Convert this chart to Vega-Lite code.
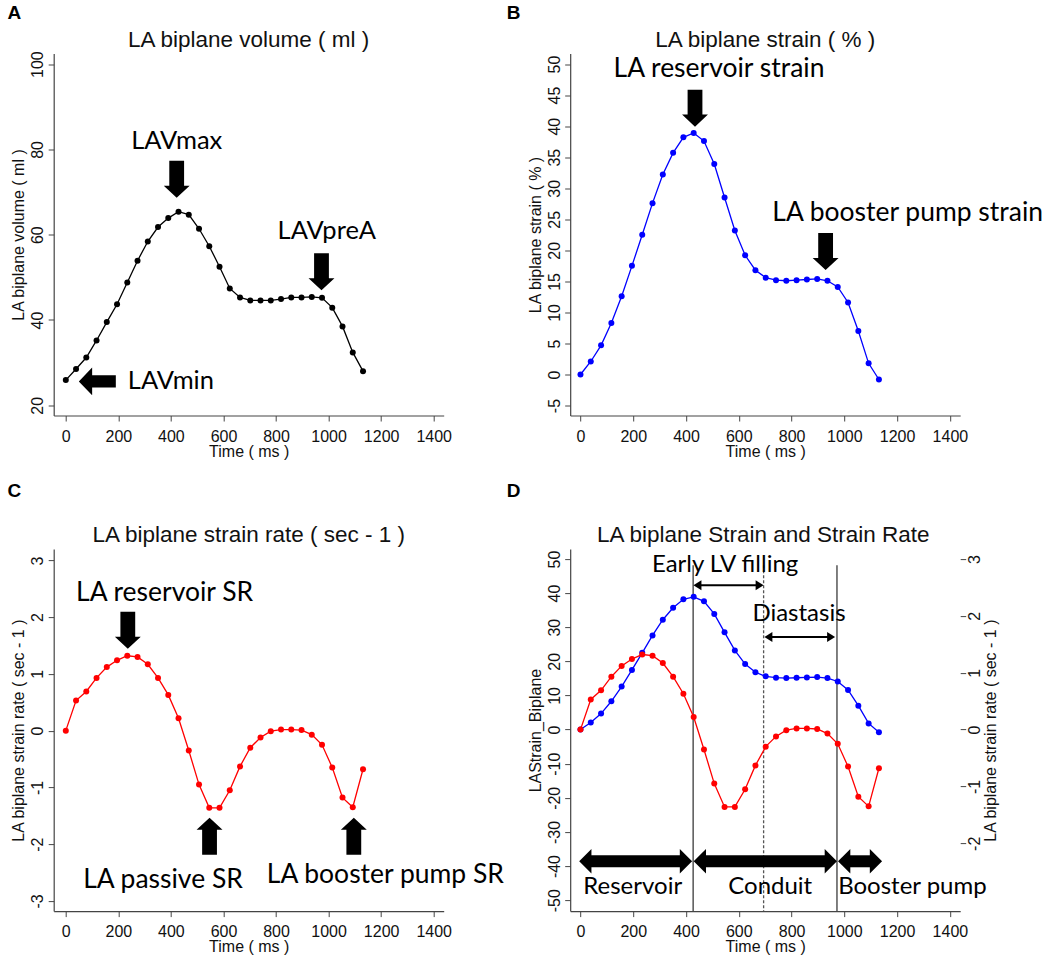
{
  "$schema": "https://vega.github.io/schema/vega-lite/v6.json",
  "background": "white",
  "padding": {"left": 6.7, "top": 3.5, "right": 0, "bottom": 0},
  "columns": 2,
  "spacing": {"row": 133.6, "column": 126.5},
  "bounds": "flush",
  "datasets": {
    "curve": [
      {"t": 0, "vol": 25.9, "strain": 0, "sr": 0},
      {"t": 39, "vol": 28.5, "strain": 2.1, "sr": 0.53},
      {"t": 78, "vol": 31.2, "strain": 4.7, "sr": 0.69},
      {"t": 117, "vol": 35.2, "strain": 8.3, "sr": 0.93},
      {"t": 156, "vol": 39.5, "strain": 12.6, "sr": 1.12},
      {"t": 195, "vol": 43.7, "strain": 17.5, "sr": 1.24},
      {"t": 234, "vol": 48.8, "strain": 22.5, "sr": 1.32},
      {"t": 273, "vol": 53.9, "strain": 27.6, "sr": 1.3},
      {"t": 312, "vol": 58.4, "strain": 32.2, "sr": 1.17},
      {"t": 351, "vol": 61.8, "strain": 35.7, "sr": 0.93},
      {"t": 390, "vol": 63.9, "strain": 38.2, "sr": 0.63},
      {"t": 429, "vol": 65.4, "strain": 38.9, "sr": 0.22},
      {"t": 468, "vol": 64.7, "strain": 37.6, "sr": -0.35},
      {"t": 507, "vol": 61.4, "strain": 33.9, "sr": -0.95},
      {"t": 546, "vol": 57.3, "strain": 28.5, "sr": -1.36},
      {"t": 585, "vol": 52.5, "strain": 23.2, "sr": -1.36},
      {"t": 624, "vol": 47.4, "strain": 19.2, "sr": -1.05},
      {"t": 663, "vol": 45.3, "strain": 16.8, "sr": -0.63},
      {"t": 702, "vol": 44.6, "strain": 15.6, "sr": -0.3},
      {"t": 741, "vol": 44.6, "strain": 15.2, "sr": -0.12},
      {"t": 780, "vol": 44.6, "strain": 15.1, "sr": -0.01},
      {"t": 819, "vol": 44.9, "strain": 15.2, "sr": 0.02},
      {"t": 858, "vol": 45.3, "strain": 15.3, "sr": 0.02},
      {"t": 897, "vol": 45.3, "strain": 15.4, "sr": 0.01},
      {"t": 936, "vol": 45.4, "strain": 15.1, "sr": -0.07},
      {"t": 975, "vol": 45.2, "strain": 14.1, "sr": -0.25},
      {"t": 1014, "vol": 42.9, "strain": 11.6, "sr": -0.65},
      {"t": 1053, "vol": 38.5, "strain": 7.0, "sr": -1.18},
      {"t": 1092, "vol": 32.4, "strain": 1.8, "sr": -1.35},
      {"t": 1131, "vol": 28.0, "strain": -0.8, "sr": -0.68}
    ],
    "notes": [
      {"p": "A", "k": "heading", "t": 696, "v": 104.05, "label": "LA biplane volume ( ml )"},
      {"p": "A", "k": "arrow", "t": 422, "v": 73.0, "dir": "down"},
      {"p": "A", "k": "arrow", "t": 973, "v": 51.3, "dir": "down"},
      {"p": "A", "k": "arrow", "t": 120, "v": 25.6, "dir": "left"},
      {"p": "A", "k": "text", "t": 422, "v": 80.0, "label": "LAVmax"},
      {"p": "A", "k": "text", "t": 993, "v": 58.9, "label": "LAVpreA"},
      {"p": "A", "k": "text", "t": 400, "v": 23.7, "label": "LAVmin"},
      {"p": "B", "k": "heading", "t": 700, "v": 52.76, "label": "LA biplane strain ( % )"},
      {"p": "B", "k": "arrow", "t": 434, "v": 42.9, "dir": "down"},
      {"p": "B", "k": "arrow", "t": 929, "v": 19.8, "dir": "down"},
      {"p": "B", "k": "text", "t": 525, "v": 47.85, "label": "LA reservoir strain"},
      {"p": "B", "k": "text", "t": 1240, "v": 24.7, "label": "LA booster pump strain"},
      {"p": "C", "k": "heading", "t": 696, "v": 3.32, "label": "LA biplane strain rate ( sec - 1 )"},
      {"p": "C", "k": "arrow", "t": 236, "v": 1.77, "dir": "down"},
      {"p": "C", "k": "arrow", "t": 547, "v": -1.86, "dir": "up"},
      {"p": "C", "k": "arrow", "t": 1096, "v": -1.86, "dir": "up"},
      {"p": "C", "k": "text", "t": 376, "v": 2.28, "label": "LA reservoir SR"},
      {"p": "C", "k": "text", "t": 370, "v": -2.78, "label": "LA passive SR"},
      {"p": "C", "k": "text", "t": 1216, "v": -2.69, "label": "LA booster pump SR"},
      {"p": "D", "k": "heading", "t": 693, "v": 55.0, "label": "LA biplane Strain and Strain Rate"},
      {"p": "D", "k": "text", "t": 548, "v": 46.1, "label": "Early LV filling"},
      {"p": "D", "k": "text", "t": 828, "v": 31.8, "label": "Diastasis"},
      {"p": "D", "k": "text", "t": 198, "v": -48.2, "label": "Reservoir"},
      {"p": "D", "k": "text", "t": 719, "v": -48.2, "label": "Conduit"},
      {"p": "D", "k": "text", "t": 1258, "v": -48.2, "label": "Booster pump"}
    ],
    "phases": [
      {"kind": "big", "t": -5, "t2": 423, "v": -38.6},
      {"kind": "big", "t": 429, "t2": 972, "v": -38.6},
      {"kind": "big", "t": 976, "t2": 1143, "v": -38.6},
      {"kind": "thin", "t": 428, "t2": 694, "v": 42.3},
      {"kind": "thin", "t": 697, "t2": 965, "v": 27.1}
    ],
    "marks": [
      {"kind": "solid", "t": 427, "v": 48.2},
      {"kind": "dashed", "t": 694, "v": 48.2},
      {"kind": "solid", "t": 972, "v": 48.2}
    ]
  },
  "config": {
    "locale": {"number": {"decimal": ".", "thousands": "", "grouping": [3], "currency": ["$", ""], "minus": "-"}},
    "view": {"stroke": null},
    "font": "Liberation Sans",
    "axis": {
      "grid": false,
      "domainColor": "#444",
      "domainWidth": 1.2,
      "tickColor": "#444",
      "tickSize": 5.5,
      "labelColor": "#111",
      "titleColor": "#111",
      "labelFont": "Liberation Sans",
      "titleFont": "Liberation Sans",
      "labelFontSize": 16,
      "titleFontSize": 16,
      "titleFontWeight": "normal",
      "labelFlush": false,
      "labelOverlap": false
    },
    "axisX": {"labelPadding": 7, "titlePadding": -1},
    "axisY": {"labelAngle": 270, "labelAlign": "center", "labelBaseline": "bottom", "labelPadding": 2.5, "titlePadding": 3},
    "title": {"font": "Liberation Sans", "fontSize": 19, "fontWeight": "bold", "color": "#000", "baseline": "alphabetic", "anchor": "start", "frame": "group", "dx": -46.3}
  },
  "concat": [
    {
      "width": 390,
      "height": 362,
      "title": {"text": "A", "offset": 5.6},
      "layer": [
        {
          "data": {"name": "curve"},
          "mark": {"type": "line", "color": "#000", "strokeWidth": 1.3},
          "encoding": {
            "x": {"field": "t", "type": "quantitative", "title": "Time ( ms )", "scale": {"domain": [-46, 1438], "nice": false, "zero": false}, "axis": {"values": [0, 200, 400, 600, 800, 1000, 1200, 1400]}},
            "y": {"field": "vol", "type": "quantitative", "title": "LA biplane volume ( ml )", "scale": {"domain": [17.6, 102.5], "nice": false, "zero": false}, "axis": {"values": [20, 40, 60, 80, 100]}}
          }
        },
        {
          "data": {"name": "curve"},
          "mark": {"type": "point", "filled": true, "color": "#000", "size": 36, "opacity": 1},
          "encoding": {
            "x": {"field": "t", "type": "quantitative", "title": "Time ( ms )", "scale": {"domain": [-46, 1438], "nice": false, "zero": false}, "axis": {"values": [0, 200, 400, 600, 800, 1000, 1200, 1400]}},
            "y": {"field": "vol", "type": "quantitative", "title": "LA biplane volume ( ml )", "scale": {"domain": [17.6, 102.5], "nice": false, "zero": false}, "axis": {"values": [20, 40, 60, 80, 100]}}
          }
        },
        {
          "data": {"name": "notes"},
          "transform": [{"filter": "datum.p === 'A' && datum.k === 'arrow'"}],
          "mark": {"type": "point", "filled": true, "color": "#000", "size": 1369, "opacity": 1, "strokeWidth": 0},
          "encoding": {
            "x": {"field": "t", "type": "quantitative", "title": "Time ( ms )", "scale": {"domain": [-46, 1438], "nice": false, "zero": false}, "axis": {"values": [0, 200, 400, 600, 800, 1000, 1200, 1400]}},
            "y": {"field": "v", "type": "quantitative", "title": "LA biplane volume ( ml )", "scale": {"domain": [17.6, 102.5], "nice": false, "zero": false}, "axis": {"values": [20, 40, 60, 80, 100]}},
            "shape": {"field": "dir", "type": "nominal", "legend": null, "scale": {"domain": ["down", "up", "left"], "range": ["M-0.4,-1L0.4,-1L0.4,0.35L0.7,0.35L0,1L-0.7,0.35L-0.4,0.35Z", "M-0.4,1L0.4,1L0.4,-0.35L0.7,-0.35L0,-1L-0.7,-0.35L-0.4,-0.35Z", "M1,-0.33L1,0.33L-0.28,0.33L-0.28,0.75L-1,0L-0.28,-0.75L-0.28,-0.33Z"]}}
          }
        },
        {
          "data": {"name": "notes"},
          "transform": [{"filter": "datum.p === 'A' && datum.k === 'text'"}],
          "mark": {"type": "text", "font": "Lato", "fontSize": 25.5, "color": "#000", "align": "center", "baseline": "alphabetic"},
          "encoding": {
            "x": {"field": "t", "type": "quantitative", "title": "Time ( ms )", "scale": {"domain": [-46, 1438], "nice": false, "zero": false}, "axis": {"values": [0, 200, 400, 600, 800, 1000, 1200, 1400]}},
            "y": {"field": "v", "type": "quantitative", "title": "LA biplane volume ( ml )", "scale": {"domain": [17.6, 102.5], "nice": false, "zero": false}, "axis": {"values": [20, 40, 60, 80, 100]}},
            "text": {"field": "label"}
          }
        },
        {
          "data": {"name": "notes"},
          "transform": [{"filter": "datum.p === 'A' && datum.k === 'heading'"}],
          "mark": {"type": "text", "font": "Liberation Sans", "fontSize": 22.5, "color": "#111", "align": "center", "baseline": "alphabetic"},
          "encoding": {
            "x": {"field": "t", "type": "quantitative", "title": "Time ( ms )", "scale": {"domain": [-46, 1438], "nice": false, "zero": false}, "axis": {"values": [0, 200, 400, 600, 800, 1000, 1200, 1400]}},
            "y": {"field": "v", "type": "quantitative", "title": "LA biplane volume ( ml )", "scale": {"domain": [17.6, 102.5], "nice": false, "zero": false}, "axis": {"values": [20, 40, 60, 80, 100]}},
            "text": {"field": "label"}
          }
        }
      ]
    },
    {
      "width": 390,
      "height": 362,
      "title": {"text": "B", "offset": 5.6, "dx": -63.5},
      "layer": [
        {
          "data": {"name": "curve"},
          "mark": {"type": "line", "color": "#0000FF", "strokeWidth": 1.3},
          "encoding": {
            "x": {"field": "t", "type": "quantitative", "title": "Time ( ms )", "scale": {"domain": [-39, 1439], "nice": false, "zero": false}, "axis": {"values": [0, 200, 400, 600, 800, 1000, 1200, 1400]}},
            "y": {"field": "strain", "type": "quantitative", "title": "LA biplane strain ( % )", "scale": {"domain": [-6.6, 51.7], "nice": false, "zero": false}, "axis": {"values": [-5, 0, 5, 10, 15, 20, 25, 30, 35, 40, 45, 50]}}
          }
        },
        {
          "data": {"name": "curve"},
          "mark": {"type": "point", "filled": true, "color": "#0000FF", "size": 36, "opacity": 1},
          "encoding": {
            "x": {"field": "t", "type": "quantitative", "title": "Time ( ms )", "scale": {"domain": [-39, 1439], "nice": false, "zero": false}, "axis": {"values": [0, 200, 400, 600, 800, 1000, 1200, 1400]}},
            "y": {"field": "strain", "type": "quantitative", "title": "LA biplane strain ( % )", "scale": {"domain": [-6.6, 51.7], "nice": false, "zero": false}, "axis": {"values": [-5, 0, 5, 10, 15, 20, 25, 30, 35, 40, 45, 50]}}
          }
        },
        {
          "data": {"name": "notes"},
          "transform": [{"filter": "datum.p === 'B' && datum.k === 'arrow'"}],
          "mark": {"type": "point", "filled": true, "color": "#000", "size": 1369, "opacity": 1, "strokeWidth": 0},
          "encoding": {
            "x": {"field": "t", "type": "quantitative", "title": "Time ( ms )", "scale": {"domain": [-39, 1439], "nice": false, "zero": false}, "axis": {"values": [0, 200, 400, 600, 800, 1000, 1200, 1400]}},
            "y": {"field": "v", "type": "quantitative", "title": "LA biplane strain ( % )", "scale": {"domain": [-6.6, 51.7], "nice": false, "zero": false}, "axis": {"values": [-5, 0, 5, 10, 15, 20, 25, 30, 35, 40, 45, 50]}},
            "shape": {"field": "dir", "type": "nominal", "legend": null, "scale": {"domain": ["down", "up", "left"], "range": ["M-0.4,-1L0.4,-1L0.4,0.35L0.7,0.35L0,1L-0.7,0.35L-0.4,0.35Z", "M-0.4,1L0.4,1L0.4,-0.35L0.7,-0.35L0,-1L-0.7,-0.35L-0.4,-0.35Z", "M1,-0.33L1,0.33L-0.28,0.33L-0.28,0.75L-1,0L-0.28,-0.75L-0.28,-0.33Z"]}}
          }
        },
        {
          "data": {"name": "notes"},
          "transform": [{"filter": "datum.p === 'B' && datum.k === 'text'"}],
          "mark": {"type": "text", "font": "Lato", "fontSize": 26.5, "color": "#000", "align": "center", "baseline": "alphabetic"},
          "encoding": {
            "x": {"field": "t", "type": "quantitative", "title": "Time ( ms )", "scale": {"domain": [-39, 1439], "nice": false, "zero": false}, "axis": {"values": [0, 200, 400, 600, 800, 1000, 1200, 1400]}},
            "y": {"field": "v", "type": "quantitative", "title": "LA biplane strain ( % )", "scale": {"domain": [-6.6, 51.7], "nice": false, "zero": false}, "axis": {"values": [-5, 0, 5, 10, 15, 20, 25, 30, 35, 40, 45, 50]}},
            "text": {"field": "label"}
          }
        },
        {
          "data": {"name": "notes"},
          "transform": [{"filter": "datum.p === 'B' && datum.k === 'heading'"}],
          "mark": {"type": "text", "font": "Liberation Sans", "fontSize": 22.5, "color": "#111", "align": "center", "baseline": "alphabetic"},
          "encoding": {
            "x": {"field": "t", "type": "quantitative", "title": "Time ( ms )", "scale": {"domain": [-39, 1439], "nice": false, "zero": false}, "axis": {"values": [0, 200, 400, 600, 800, 1000, 1200, 1400]}},
            "y": {"field": "v", "type": "quantitative", "title": "LA biplane strain ( % )", "scale": {"domain": [-6.6, 51.7], "nice": false, "zero": false}, "axis": {"values": [-5, 0, 5, 10, 15, 20, 25, 30, 35, 40, 45, 50]}},
            "text": {"field": "label"}
          }
        }
      ]
    },
    {
      "width": 390,
      "height": 362,
      "title": {"text": "C", "offset": 23.1},
      "layer": [
        {
          "mark": {"type": "rule", "color": "#444", "strokeWidth": 1.5},
          "encoding": {
            "y": {"datum": 0, "type": "quantitative", "title": "LA biplane strain rate ( sec - 1 )", "scale": {"domain": [-3.18, 3.2], "nice": false, "zero": false}, "axis": {"values": [-3, -2, -1, 0, 1, 2, 3]}}
          }
        },
        {
          "data": {"name": "curve"},
          "mark": {"type": "line", "color": "#FF0000", "strokeWidth": 1.3},
          "encoding": {
            "x": {"field": "t", "type": "quantitative", "title": "Time ( ms )", "scale": {"domain": [-46, 1438], "nice": false, "zero": false}, "axis": {"values": [0, 200, 400, 600, 800, 1000, 1200, 1400]}},
            "y": {"field": "sr", "type": "quantitative", "title": "LA biplane strain rate ( sec - 1 )", "scale": {"domain": [-3.18, 3.2], "nice": false, "zero": false}, "axis": {"values": [-3, -2, -1, 0, 1, 2, 3]}}
          }
        },
        {
          "data": {"name": "curve"},
          "mark": {"type": "point", "filled": true, "color": "#FF0000", "size": 36, "opacity": 1},
          "encoding": {
            "x": {"field": "t", "type": "quantitative", "title": "Time ( ms )", "scale": {"domain": [-46, 1438], "nice": false, "zero": false}, "axis": {"values": [0, 200, 400, 600, 800, 1000, 1200, 1400]}},
            "y": {"field": "sr", "type": "quantitative", "title": "LA biplane strain rate ( sec - 1 )", "scale": {"domain": [-3.18, 3.2], "nice": false, "zero": false}, "axis": {"values": [-3, -2, -1, 0, 1, 2, 3]}}
          }
        },
        {
          "data": {"name": "notes"},
          "transform": [{"filter": "datum.p === 'C' && datum.k === 'arrow'"}],
          "mark": {"type": "point", "filled": true, "color": "#000", "size": 1369, "opacity": 1, "strokeWidth": 0},
          "encoding": {
            "x": {"field": "t", "type": "quantitative", "title": "Time ( ms )", "scale": {"domain": [-46, 1438], "nice": false, "zero": false}, "axis": {"values": [0, 200, 400, 600, 800, 1000, 1200, 1400]}},
            "y": {"field": "v", "type": "quantitative", "title": "LA biplane strain rate ( sec - 1 )", "scale": {"domain": [-3.18, 3.2], "nice": false, "zero": false}, "axis": {"values": [-3, -2, -1, 0, 1, 2, 3]}},
            "shape": {"field": "dir", "type": "nominal", "legend": null, "scale": {"domain": ["down", "up", "left"], "range": ["M-0.4,-1L0.4,-1L0.4,0.35L0.7,0.35L0,1L-0.7,0.35L-0.4,0.35Z", "M-0.4,1L0.4,1L0.4,-0.35L0.7,-0.35L0,-1L-0.7,-0.35L-0.4,-0.35Z", "M1,-0.33L1,0.33L-0.28,0.33L-0.28,0.75L-1,0L-0.28,-0.75L-0.28,-0.33Z"]}}
          }
        },
        {
          "data": {"name": "notes"},
          "transform": [{"filter": "datum.p === 'C' && datum.k === 'text'"}],
          "mark": {"type": "text", "font": "Lato", "fontSize": 26.5, "color": "#000", "align": "center", "baseline": "alphabetic"},
          "encoding": {
            "x": {"field": "t", "type": "quantitative", "title": "Time ( ms )", "scale": {"domain": [-46, 1438], "nice": false, "zero": false}, "axis": {"values": [0, 200, 400, 600, 800, 1000, 1200, 1400]}},
            "y": {"field": "v", "type": "quantitative", "title": "LA biplane strain rate ( sec - 1 )", "scale": {"domain": [-3.18, 3.2], "nice": false, "zero": false}, "axis": {"values": [-3, -2, -1, 0, 1, 2, 3]}},
            "text": {"field": "label"}
          }
        },
        {
          "data": {"name": "notes"},
          "transform": [{"filter": "datum.p === 'C' && datum.k === 'heading'"}],
          "mark": {"type": "text", "font": "Liberation Sans", "fontSize": 22.5, "color": "#111", "align": "center", "baseline": "alphabetic"},
          "encoding": {
            "x": {"field": "t", "type": "quantitative", "title": "Time ( ms )", "scale": {"domain": [-46, 1438], "nice": false, "zero": false}, "axis": {"values": [0, 200, 400, 600, 800, 1000, 1200, 1400]}},
            "y": {"field": "v", "type": "quantitative", "title": "LA biplane strain rate ( sec - 1 )", "scale": {"domain": [-3.18, 3.2], "nice": false, "zero": false}, "axis": {"values": [-3, -2, -1, 0, 1, 2, 3]}},
            "text": {"field": "label"}
          }
        }
      ]
    },
    {
      "width": 390,
      "height": 362,
      "title": {"text": "D", "offset": 23.1, "dx": -63.5},
      "resolve": {"scale": {"y": "independent"}},
      "layer": [
        {
          "layer": [
            {
              "mark": {"type": "rule", "color": "#444", "strokeWidth": 1.5},
              "encoding": {
                "y": {"datum": 0, "type": "quantitative", "title": "LAStrain_Biplane", "scale": {"domain": [-53.2, 52.9], "nice": false, "zero": false}, "axis": {"values": [-50, -40, -30, -20, -10, 0, 10, 20, 30, 40, 50]}}
              }
            },
            {
              "data": {"name": "marks"},
              "transform": [{"filter": "datum.kind === 'solid'"}],
              "mark": {"type": "rule", "color": "#555", "strokeWidth": 1.5},
              "encoding": {
                "x": {"field": "t", "type": "quantitative", "title": "Time ( ms )", "scale": {"domain": [-39, 1439], "nice": false, "zero": false}, "axis": {"values": [0, 200, 400, 600, 800, 1000, 1200, 1400]}},
                "y": {"field": "v", "type": "quantitative", "title": "LAStrain_Biplane", "scale": {"domain": [-53.2, 52.9], "nice": false, "zero": false}, "axis": {"values": [-50, -40, -30, -20, -10, 0, 10, 20, 30, 40, 50]}},
                "y2": {"datum": -53.2}
              }
            },
            {
              "data": {"name": "marks"},
              "transform": [{"filter": "datum.kind === 'dashed'"}],
              "mark": {"type": "rule", "color": "#555", "strokeWidth": 1.3, "strokeDash": [3, 2]},
              "encoding": {
                "x": {"field": "t", "type": "quantitative", "title": "Time ( ms )", "scale": {"domain": [-39, 1439], "nice": false, "zero": false}, "axis": {"values": [0, 200, 400, 600, 800, 1000, 1200, 1400]}},
                "y": {"field": "v", "type": "quantitative", "title": "LAStrain_Biplane", "scale": {"domain": [-53.2, 52.9], "nice": false, "zero": false}, "axis": {"values": [-50, -40, -30, -20, -10, 0, 10, 20, 30, 40, 50]}},
                "y2": {"datum": -53.2}
              }
            },
            {
              "data": {"name": "curve"},
              "mark": {"type": "line", "color": "#0000FF", "strokeWidth": 1.3},
              "encoding": {
                "x": {"field": "t", "type": "quantitative", "title": "Time ( ms )", "scale": {"domain": [-39, 1439], "nice": false, "zero": false}, "axis": {"values": [0, 200, 400, 600, 800, 1000, 1200, 1400]}},
                "y": {"field": "strain", "type": "quantitative", "title": "LAStrain_Biplane", "scale": {"domain": [-53.2, 52.9], "nice": false, "zero": false}, "axis": {"values": [-50, -40, -30, -20, -10, 0, 10, 20, 30, 40, 50]}}
              }
            },
            {
              "data": {"name": "curve"},
              "mark": {"type": "point", "filled": true, "color": "#0000FF", "size": 36, "opacity": 1},
              "encoding": {
                "x": {"field": "t", "type": "quantitative", "title": "Time ( ms )", "scale": {"domain": [-39, 1439], "nice": false, "zero": false}, "axis": {"values": [0, 200, 400, 600, 800, 1000, 1200, 1400]}},
                "y": {"field": "strain", "type": "quantitative", "title": "LAStrain_Biplane", "scale": {"domain": [-53.2, 52.9], "nice": false, "zero": false}, "axis": {"values": [-50, -40, -30, -20, -10, 0, 10, 20, 30, 40, 50]}}
              }
            },
            {
              "data": {"name": "phases"},
              "transform": [{"filter": "datum.kind === 'big'"}],
              "mark": {"type": "rule", "color": "#000", "strokeWidth": 12, "xOffset": 10, "x2Offset": -10},
              "encoding": {
                "x": {"field": "t", "type": "quantitative", "title": "Time ( ms )", "scale": {"domain": [-39, 1439], "nice": false, "zero": false}, "axis": {"values": [0, 200, 400, 600, 800, 1000, 1200, 1400]}},
                "x2": {"field": "t2"},
                "y": {"field": "v", "type": "quantitative", "title": "LAStrain_Biplane", "scale": {"domain": [-53.2, 52.9], "nice": false, "zero": false}, "axis": {"values": [-50, -40, -30, -20, -10, 0, 10, 20, 30, 40, 50]}}
              }
            },
            {
              "data": {"name": "phases"},
              "transform": [{"filter": "datum.kind === 'big'"}],
              "mark": {"type": "point", "filled": true, "color": "#000", "opacity": 1, "strokeWidth": 0, "size": 605, "shape": "M0,0L1,-1L1,1Z"},
              "encoding": {
                "x": {"field": "t", "type": "quantitative", "title": "Time ( ms )", "scale": {"domain": [-39, 1439], "nice": false, "zero": false}, "axis": {"values": [0, 200, 400, 600, 800, 1000, 1200, 1400]}},
                "y": {"field": "v", "type": "quantitative", "title": "LAStrain_Biplane", "scale": {"domain": [-53.2, 52.9], "nice": false, "zero": false}, "axis": {"values": [-50, -40, -30, -20, -10, 0, 10, 20, 30, 40, 50]}}
              }
            },
            {
              "data": {"name": "phases"},
              "transform": [{"filter": "datum.kind === 'big'"}],
              "mark": {"type": "point", "filled": true, "color": "#000", "opacity": 1, "strokeWidth": 0, "size": 605, "shape": "M0,0L-1,-1L-1,1Z"},
              "encoding": {
                "x": {"field": "t2", "type": "quantitative", "title": "Time ( ms )", "scale": {"domain": [-39, 1439], "nice": false, "zero": false}, "axis": {"values": [0, 200, 400, 600, 800, 1000, 1200, 1400]}},
                "y": {"field": "v", "type": "quantitative", "title": "LAStrain_Biplane", "scale": {"domain": [-53.2, 52.9], "nice": false, "zero": false}, "axis": {"values": [-50, -40, -30, -20, -10, 0, 10, 20, 30, 40, 50]}}
              }
            },
            {
              "data": {"name": "phases"},
              "transform": [{"filter": "datum.kind === 'thin'"}],
              "mark": {"type": "rule", "color": "#000", "strokeWidth": 2, "xOffset": 4, "x2Offset": -4},
              "encoding": {
                "x": {"field": "t", "type": "quantitative", "title": "Time ( ms )", "scale": {"domain": [-39, 1439], "nice": false, "zero": false}, "axis": {"values": [0, 200, 400, 600, 800, 1000, 1200, 1400]}},
                "x2": {"field": "t2"},
                "y": {"field": "v", "type": "quantitative", "title": "LAStrain_Biplane", "scale": {"domain": [-53.2, 52.9], "nice": false, "zero": false}, "axis": {"values": [-50, -40, -30, -20, -10, 0, 10, 20, 30, 40, 50]}}
              }
            },
            {
              "data": {"name": "phases"},
              "transform": [{"filter": "datum.kind === 'thin'"}],
              "mark": {"type": "point", "filled": true, "color": "#000", "opacity": 1, "strokeWidth": 0, "size": 100, "shape": "M0,0L1.6,-1L1.6,1Z"},
              "encoding": {
                "x": {"field": "t", "type": "quantitative", "title": "Time ( ms )", "scale": {"domain": [-39, 1439], "nice": false, "zero": false}, "axis": {"values": [0, 200, 400, 600, 800, 1000, 1200, 1400]}},
                "y": {"field": "v", "type": "quantitative", "title": "LAStrain_Biplane", "scale": {"domain": [-53.2, 52.9], "nice": false, "zero": false}, "axis": {"values": [-50, -40, -30, -20, -10, 0, 10, 20, 30, 40, 50]}}
              }
            },
            {
              "data": {"name": "phases"},
              "transform": [{"filter": "datum.kind === 'thin'"}],
              "mark": {"type": "point", "filled": true, "color": "#000", "opacity": 1, "strokeWidth": 0, "size": 100, "shape": "M0,0L-1.6,-1L-1.6,1Z"},
              "encoding": {
                "x": {"field": "t2", "type": "quantitative", "title": "Time ( ms )", "scale": {"domain": [-39, 1439], "nice": false, "zero": false}, "axis": {"values": [0, 200, 400, 600, 800, 1000, 1200, 1400]}},
                "y": {"field": "v", "type": "quantitative", "title": "LAStrain_Biplane", "scale": {"domain": [-53.2, 52.9], "nice": false, "zero": false}, "axis": {"values": [-50, -40, -30, -20, -10, 0, 10, 20, 30, 40, 50]}}
              }
            },
            {
              "data": {"name": "notes"},
              "transform": [{"filter": "datum.p === 'D' && datum.k === 'text'"}],
              "mark": {"type": "text", "font": "Lato", "fontSize": 24, "color": "#000", "align": "center", "baseline": "alphabetic"},
              "encoding": {
                "x": {"field": "t", "type": "quantitative", "title": "Time ( ms )", "scale": {"domain": [-39, 1439], "nice": false, "zero": false}, "axis": {"values": [0, 200, 400, 600, 800, 1000, 1200, 1400]}},
                "y": {"field": "v", "type": "quantitative", "title": "LAStrain_Biplane", "scale": {"domain": [-53.2, 52.9], "nice": false, "zero": false}, "axis": {"values": [-50, -40, -30, -20, -10, 0, 10, 20, 30, 40, 50]}},
                "text": {"field": "label"}
              }
            },
            {
              "data": {"name": "notes"},
              "transform": [{"filter": "datum.p === 'D' && datum.k === 'heading'"}],
              "mark": {"type": "text", "font": "Liberation Sans", "fontSize": 22.5, "color": "#111", "align": "center", "baseline": "alphabetic"},
              "encoding": {
                "x": {"field": "t", "type": "quantitative", "title": "Time ( ms )", "scale": {"domain": [-39, 1439], "nice": false, "zero": false}, "axis": {"values": [0, 200, 400, 600, 800, 1000, 1200, 1400]}},
                "y": {"field": "v", "type": "quantitative", "title": "LAStrain_Biplane", "scale": {"domain": [-53.2, 52.9], "nice": false, "zero": false}, "axis": {"values": [-50, -40, -30, -20, -10, 0, 10, 20, 30, 40, 50]}},
                "text": {"field": "label"}
              }
            }
          ]
        },
        {
          "layer": [
            {
              "data": {"name": "curve"},
              "mark": {"type": "line", "color": "#FF0000", "strokeWidth": 1.3},
              "encoding": {
                "x": {"field": "t", "type": "quantitative", "title": "Time ( ms )", "scale": {"domain": [-39, 1439], "nice": false, "zero": false}, "axis": {"values": [0, 200, 400, 600, 800, 1000, 1200, 1400]}},
                "y": {"field": "sr", "type": "quantitative", "title": "LA biplane strain rate ( sec - 1 )", "scale": {"domain": [-3.192, 3.174], "nice": false, "zero": false}, "axis": {"orient": "right", "values": [-2, -1, 0, 1, 2, 3], "domain": false, "labelBaseline": "top", "labelPadding": 1, "titleAngle": 270, "titleBaseline": "top", "titlePadding": 0}}
              }
            },
            {
              "data": {"name": "curve"},
              "mark": {"type": "point", "filled": true, "color": "#FF0000", "size": 36, "opacity": 1},
              "encoding": {
                "x": {"field": "t", "type": "quantitative", "title": "Time ( ms )", "scale": {"domain": [-39, 1439], "nice": false, "zero": false}, "axis": {"values": [0, 200, 400, 600, 800, 1000, 1200, 1400]}},
                "y": {"field": "sr", "type": "quantitative", "title": "LA biplane strain rate ( sec - 1 )", "scale": {"domain": [-3.192, 3.174], "nice": false, "zero": false}, "axis": {"orient": "right", "values": [-2, -1, 0, 1, 2, 3], "domain": false, "labelBaseline": "top", "labelPadding": 1, "titleAngle": 270, "titleBaseline": "top", "titlePadding": 0}}
              }
            },
            {
              "mark": {"type": "rule", "color": "#444", "strokeWidth": 1.2},
              "encoding": {
                "x": {"datum": 1439, "type": "quantitative", "title": "Time ( ms )", "scale": {"domain": [-39, 1439], "nice": false, "zero": false}, "axis": {"values": [0, 200, 400, 600, 800, 1000, 1200, 1400]}},
                "y": {"datum": 3.174, "type": "quantitative", "title": "LA biplane strain rate ( sec - 1 )", "scale": {"domain": [-3.192, 3.174], "nice": false, "zero": false}, "axis": {"orient": "right", "values": [-2, -1, 0, 1, 2, 3], "domain": false, "labelBaseline": "top", "labelPadding": 1, "titleAngle": 270, "titleBaseline": "top", "titlePadding": 0}},
                "y2": {"datum": -2.36}
              }
            }
          ]
        }
      ]
    }
  ]
}
